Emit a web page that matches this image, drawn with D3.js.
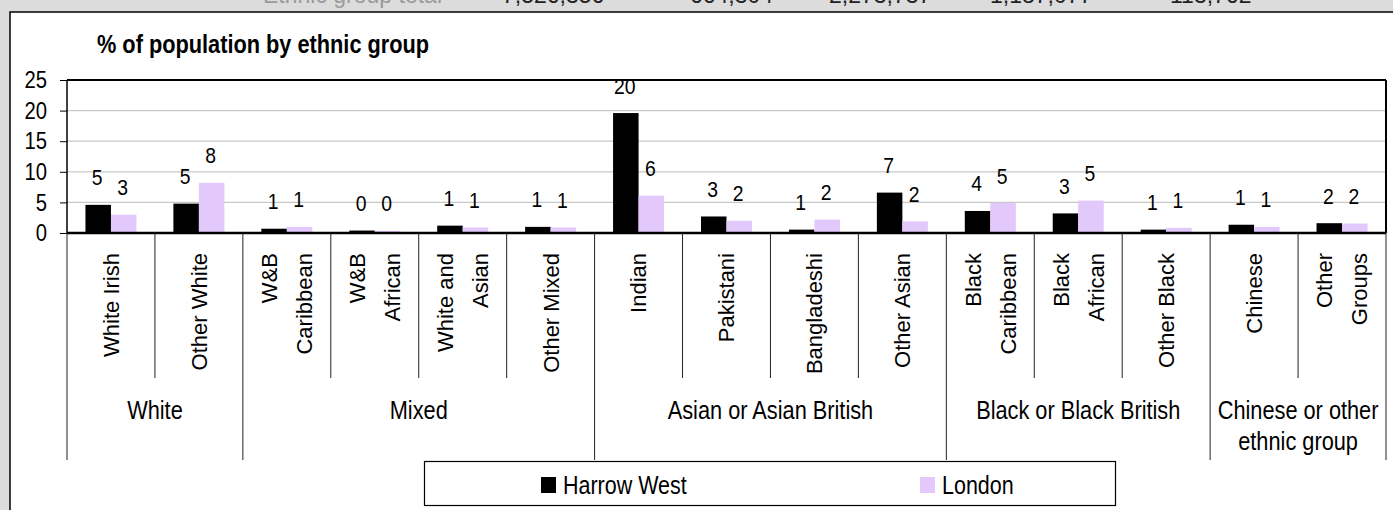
<!DOCTYPE html>
<html><head><meta charset="utf-8">
<script src="https://cdn.jsdelivr.net/npm/d3@7"></script>
<style>body{margin:0;background:#dcdcdc;overflow:hidden} svg{display:block}</style>
</head><body><svg id="c" width="1393" height="510"></svg>
<script>
const categories = ["White Irish","Other White","W&B Caribbean","W&B African","White and Asian","Other Mixed","Indian","Pakistani","Bangladeshi","Other Asian","Black Caribbean","Black African","Other Black","Chinese","Other Groups"];
const categoryLines = [["White Irish"],["Other White"],["W&B","Caribbean"],["W&B","African"],["White and","Asian"],["Other Mixed"],["Indian"],["Pakistani"],["Bangladeshi"],["Other Asian"],["Black","Caribbean"],["Black","African"],["Other Black"],["Chinese"],["Other","Groups"]];
const groupLines = [["White"],["Mixed"],["Asian or Asian British"],["Black or Black British"],["Chinese or other","ethnic group"]];
const groupSizes = [2,4,4,3,2];
const seriesNames = ["Harrow West","London"];
const harrowWest = [4.6,4.8,0.7,0.4,1.2,1.0,19.6,2.7,0.55,6.6,3.6,3.2,0.55,1.35,1.6];
const london = [3.0,8.2,1.0,0.35,0.9,0.9,6.1,2.0,2.2,1.9,4.9,5.3,0.85,1.0,1.55];
const yTicks = [0,5,10,15,20,25];
const title = "% of population by ethnic group";
const stripTexts = ["Ethnic group total","7,526,356","664,304","2,273,737","1,187,077","113,762"];

const colors = ["#000000","#e3c8fb"];
const SANS = "'Liberation Sans',Arial,sans-serif";

const svg = d3.select("#c");

// narrow text helper (condensed look via horizontal scaling)
function ntext(parent, x, y, str, size, sx, anchor, opts={}) {
  const t = parent.append("text")
    .attr("transform",`translate(${x},${y}) scale(${sx},1)`)
    .attr("text-anchor",anchor||"start")
    .attr("font-family",SANS).attr("font-size",size)
    .attr("fill",opts.fill||"#000").text(str);
  if (opts.bold) t.attr("font-weight","bold");
  if (opts.dy) t.attr("dy",opts.dy);
  return t;
}

// top strip (cut-off text)
const stripX = [442,502,690,829,990,1170];
stripTexts.forEach((s,i)=>{
  ntext(svg, stripX[i], 3, s, 23, 1, i===0?"end":"start", {fill: i===0?"#9a9a9a":"#222"});
});

// chart frame
svg.append("rect").attr("x",10).attr("y",12).attr("width",1400).attr("height",520)
  .attr("fill","#fff").attr("stroke","#000").attr("stroke-width",1.5);

const x0 = 67, x1 = 1386, yTop = 80, yZero = 233;
const x = d3.scaleBand().domain(categories).range([x0,x1]).padding(0);
const bw = x.bandwidth();
const xs = d3.scaleBand().domain(seriesNames).range([bw*0.21, bw*0.79]).padding(0);
const y = d3.scaleLinear().domain([0,25]).range([yZero,yTop]);

// gridlines
svg.append("g").selectAll("line").data(yTicks.filter(t=>t>0&&t<25)).join("line")
  .attr("x1",x0).attr("x2",x1).attr("y1",d=>y(d)).attr("y2",d=>y(d))
  .attr("stroke","#c8c8c8").attr("stroke-width",1.2);

// y axis
const yAxis = d3.axisLeft(y).tickValues(yTicks).tickSize(7).tickFormat("");
const ya = svg.append("g").attr("transform",`translate(${x0},0)`).call(yAxis);
ya.select(".domain").remove();
ya.selectAll("line").attr("stroke","#000");
yTicks.forEach(t=>{
  ntext(svg, 47, y(t), String(t), 23, 0.88, "end", {dy:"0.36em"});
});

// bars
const series = [harrowWest, london];
const gBars = svg.append("g");
series.forEach((vals,si)=>{
  gBars.selectAll(null).data(vals).join("rect")
    .attr("x",(d,i)=>x(categories[i])+xs(seriesNames[si]))
    .attr("width",xs.bandwidth())
    .attr("y",d=>y(d)).attr("height",d=>yZero-y(d))
    .attr("fill",colors[si]);
  vals.forEach((d,i)=>{
    ntext(gBars, x(categories[i])+xs(seriesNames[si])+xs.bandwidth()/2-1, y(d)-19.5,
      String(Math.round(d)), 22, 0.88, "middle");
  });
});

// plot border
svg.append("line").attr("x1",x0).attr("x2",x1).attr("y1",yTop).attr("y2",yTop).attr("stroke","#000").attr("stroke-width",2);
svg.append("line").attr("x1",x1).attr("x2",x1).attr("y1",yTop).attr("y2",yZero).attr("stroke","#000").attr("stroke-width",2);
svg.append("line").attr("x1",x0).attr("x2",x0).attr("y1",yTop).attr("y2",yZero).attr("stroke","#000").attr("stroke-width",1.5);
svg.append("line").attr("x1",x0).attr("x2",x1).attr("y1",yZero).attr("y2",yZero).attr("stroke","#000").attr("stroke-width",2.5);

// category ticks
const groupBounds = [0];
groupSizes.reduce((a,s)=>{groupBounds.push(a+s);return a+s;},0);
const boundaries = d3.range(categories.length+1);
svg.append("g").selectAll("line").data(boundaries).join("line")
  .attr("x1",i=>i<categories.length? x(categories[i]) : x1)
  .attr("x2",i=>i<categories.length? x(categories[i]) : x1)
  .attr("y1",yZero).attr("y2",i=>groupBounds.includes(i)?460:378)
  .attr("stroke","#222").attr("stroke-width",1);

// category labels (rotated)
categoryLines.forEach((lines,i)=>{
  const cx = x(categories[i]) + bw/2;
  const n = lines.length;
  lines.forEach((ln,j)=>{
    const off = (j-(n-1)/2)*35;
    svg.append("text")
      .attr("transform",`translate(${cx+off},253) rotate(-90)`)
      .attr("text-anchor","end").attr("dy","0.36em")
      .attr("font-family",SANS).attr("font-size",22).attr("fill","#000")
      .text(ln);
  });
});

// group labels
let start = 0;
groupLines.forEach((lines,gi)=>{
  const a = x(categories[start]);
  const endIdx = start+groupSizes[gi];
  const b = endIdx<categories.length ? x(categories[endIdx]) : x1;
  const cx = (a+b)/2;
  lines.forEach((ln,j)=>{
    ntext(svg, cx, lines.length===1?419:419+j*31, ln, 25, 0.87, "middle");
  });
  start = endIdx;
});

// title
ntext(svg, 97, 53, title, 25, 0.87, "start", {bold:true});

// legend
svg.append("rect").attr("x",424.5).attr("y",461.5).attr("width",691).attr("height",44)
  .attr("fill","#fff").attr("stroke","#000").attr("stroke-width",1.2);
const legX = [541,920];
seriesNames.forEach((s,i)=>{
  svg.append("rect").attr("x",legX[i]).attr("y",477).attr("width",15).attr("height",16).attr("fill",colors[i]);
  ntext(svg, legX[i]+22, 494, s, 25, 0.86, "start");
});
</script></body></html>
